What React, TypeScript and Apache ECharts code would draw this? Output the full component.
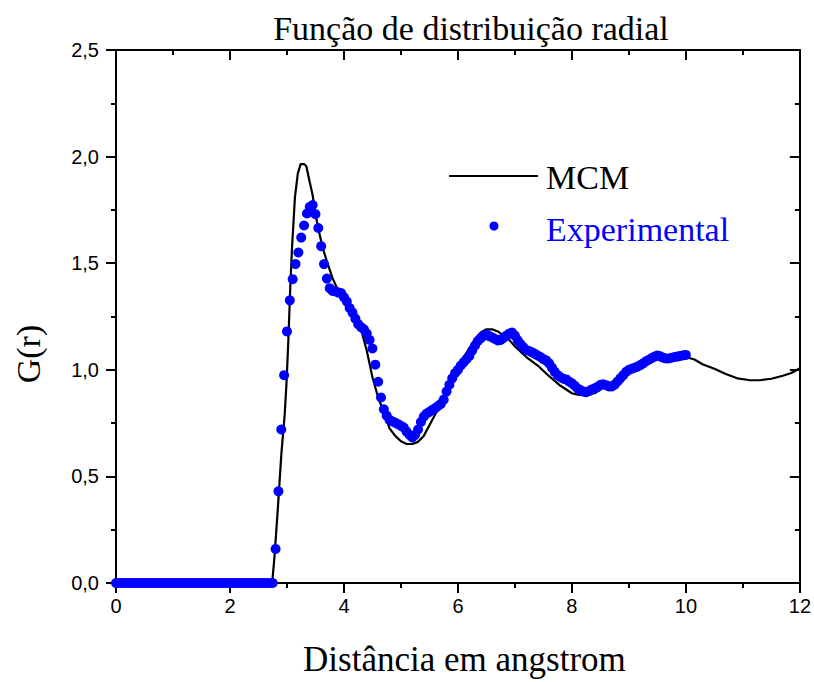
import React, { useEffect, useRef } from "react";
import * as echarts from "echarts";

// MCM simulated curve (x in angstrom, G(r))
const mcmX = [
  0, 1, 2, 2.5, 2.74, 2.78, 2.84, 2.9, 2.96, 2.99, 3.02, 3.06, 3.09, 3.14, 3.19,
  3.24, 3.3, 3.34, 3.4, 3.45, 3.5, 3.56, 3.63, 3.71, 3.8, 3.9, 4.0, 4.1, 4.2,
  4.3, 4.4, 4.5, 4.6, 4.7, 4.8, 4.9, 5.0, 5.1, 5.2, 5.3, 5.4, 5.5, 5.6, 5.7,
  5.8, 5.9, 6.0, 6.1, 6.2, 6.3, 6.4, 6.5, 6.6, 6.7, 6.8, 6.9, 7.0, 7.2, 7.4,
  7.6, 7.8, 8.0, 8.1, 8.2, 8.4, 8.6, 8.8, 9.0, 9.2, 9.4, 9.6, 9.85, 10.0,
  10.15, 10.3, 10.5, 10.7, 10.9, 11.1, 11.3, 11.5, 11.7, 11.85, 12.0,
];
const mcmY = [
  0, 0, 0, 0, 0, 0.12, 0.35, 0.6, 0.79, 0.93, 1.11, 1.4, 1.58, 1.81, 1.92,
  1.965, 1.965, 1.955, 1.88, 1.82, 1.73, 1.65, 1.57, 1.5, 1.43, 1.37, 1.34, 1.3, 1.25,
  1.19, 1.09, 0.965, 0.87, 0.8, 0.725, 0.69, 0.665, 0.652, 0.652, 0.662, 0.69, 0.74, 0.79, 0.84,
  0.89, 0.945, 1.01, 1.06, 1.1, 1.145, 1.175, 1.19, 1.19, 1.18, 1.16, 1.14, 1.11, 1.06, 1.02,
  0.97, 0.925, 0.89, 0.883, 0.882, 0.89, 0.925, 0.96, 0.995, 1.025, 1.05, 1.062, 1.067, 1.06,
  1.048, 1.025, 1.005, 0.98, 0.96, 0.952, 0.951, 0.958, 0.972, 0.985, 1.007,
];

// Experimental points, sampled every 0.05 angstrom from 0 to 10
const EXP_STEP = 0.05;
const expY = [
  // 0.00 - 2.70
  0, 0, 0, 0, 0, 0, 0, 0, 0, 0,
  0, 0, 0, 0, 0, 0, 0, 0, 0, 0,
  0, 0, 0, 0, 0, 0, 0, 0, 0, 0,
  0, 0, 0, 0, 0, 0, 0, 0, 0, 0,
  0, 0, 0, 0, 0, 0, 0, 0, 0, 0,
  0, 0, 0, 0, 0,
  // 2.75
  0,
  // 2.80 - 3.25
  0.16, 0.43, 0.72, 0.975, 1.18, 1.326, 1.425, 1.496, 1.55, 1.62,
  // 3.30 - 3.75
  1.677, 1.733, 1.764, 1.773, 1.73, 1.665, 1.58, 1.496, 1.428, 1.383,
  // 3.80 - 4.25
  1.37, 1.368, 1.362, 1.36, 1.34, 1.32, 1.29, 1.268, 1.24, 1.214,
  // 4.30 - 4.75
  1.2, 1.19, 1.17, 1.14, 1.1, 1.024, 0.944, 0.87, 0.815, 0.785,
  // 4.80 - 5.25
  0.765, 0.758, 0.752, 0.745, 0.737, 0.729, 0.71, 0.695, 0.683, 0.695,
  // 5.30 - 5.75
  0.72, 0.755, 0.78, 0.795, 0.803, 0.812, 0.82, 0.83, 0.84, 0.86,
  // 5.80 - 6.25
  0.898, 0.93, 0.96, 0.985, 1.0, 1.02, 1.035, 1.05, 1.065, 1.09,
  // 6.30 - 6.75
  1.114, 1.135, 1.148, 1.16, 1.165, 1.158, 1.152, 1.145, 1.138, 1.14,
  // 6.80 - 7.25
  1.15, 1.16, 1.17, 1.175, 1.16, 1.138, 1.12, 1.105, 1.093, 1.088,
  // 7.30 - 7.75
  1.082, 1.075, 1.067, 1.06, 1.05, 1.044, 1.03, 1.01, 0.99, 0.975,
  // 7.80 - 8.25
  0.965, 0.958, 0.955, 0.945, 0.937, 0.925, 0.912, 0.905, 0.898, 0.895,
  // 8.30 - 8.75
  0.9, 0.908, 0.913, 0.92, 0.93, 0.932, 0.928, 0.922, 0.922, 0.93,
  // 8.80 - 9.25
  0.945, 0.96, 0.975, 0.99, 1.0, 1.005, 1.01, 1.015, 1.022, 1.03,
  // 9.30 - 9.75
  1.04, 1.047, 1.055, 1.062, 1.067, 1.063, 1.057, 1.053, 1.053, 1.057,
  // 9.80 - 10.00
  1.06, 1.062, 1.065, 1.068, 1.07,
];

const xTicks = { min: 0, max: 12, interval: 2 };
const yTicks = { min: 0, max: 2.5, interval: 0.5 };

const TITLE = "Função de distribuição radial";
const X_NAME = "Distância em angstrom";
const Y_NAME = "G(r)";
const LEGEND = ["MCM", "Experimental"];

const SERIF = "'Liberation Serif', 'Times New Roman', serif";
const SANS = "'Liberation Sans', Arial, sans-serif";
const BLUE = "#0000ff";

export default function App() {
  const ref = useRef<HTMLDivElement>(null);

  useEffect(() => {
    if (!ref.current) return;
    const chart = echarts.init(ref.current, undefined, { renderer: "svg" });

    const mcmData = mcmX.map((x, i) => [x, mcmY[i]]);
    const expData = expY.map((y, i) => [Number((i * EXP_STEP).toFixed(2)), y]);

    const axisLine = { show: true, onZero: false, lineStyle: { color: "#000", width: 2 } };
    const tickStyle = { color: "#000", width: 2 };

    const option: any = {
      animation: false,
      backgroundColor: "#fff",
      title: {
        text: TITLE,
        left: 466,
        top: 6,
        textAlign: "center",
        textStyle: { fontFamily: SERIF, fontSize: 34, fontWeight: "normal", color: "#000" },
      },
      grid: { left: 116, right: 11, top: 50, bottom: 91, containLabel: false },
      xAxis: [
        {
          type: "value",
          position: "bottom",
          ...xTicks,
          name: X_NAME,
          nameLocation: "middle",
          nameGap: 59,
          nameTextStyle: { fontFamily: SERIF, fontSize: 35, color: "#000", padding: [0, 0, 0, 13] },
          axisLine,
          axisTick: { show: true, inside: false, length: 10, lineStyle: tickStyle },
          minorTick: { show: true, splitNumber: 2, length: 5, lineStyle: tickStyle },
          splitLine: { show: false },
          axisLabel: { fontFamily: SANS, fontSize: 20, color: "#000", margin: 13 },
        },
        {
          type: "value",
          position: "top",
          ...xTicks,
          axisLine,
          axisTick: { show: true, inside: true, length: 10, lineStyle: tickStyle },
          minorTick: { show: true, splitNumber: 2, length: 5, lineStyle: tickStyle },
          splitLine: { show: false },
          axisLabel: { show: false },
        },
      ],
      yAxis: [
        {
          type: "value",
          position: "left",
          ...yTicks,
          axisLine,
          axisTick: { show: true, inside: false, length: 10, lineStyle: tickStyle },
          minorTick: { show: true, splitNumber: 2, length: 5, lineStyle: tickStyle },
          splitLine: { show: false },
          axisLabel: {
            fontFamily: SANS,
            fontSize: 20,
            color: "#000",
            margin: 17,
            formatter: (v: number) => v.toFixed(1).replace(".", ","),
          },
        },
        {
          type: "value",
          position: "right",
          ...yTicks,
          axisLine,
          axisTick: { show: true, inside: true, length: 10, lineStyle: tickStyle },
          minorTick: { show: true, splitNumber: 2, length: 5, lineStyle: tickStyle },
          splitLine: { show: false },
          axisLabel: { show: false },
        },
      ],
      series: [
        {
          name: LEGEND[0],
          type: "line",
          xAxisIndex: 0,
          yAxisIndex: 0,
          data: mcmData,
          showSymbol: false,
          symbol: "none",
          lineStyle: { color: "#000", width: 2.2 },
          z: 2,
        },
        {
          name: LEGEND[1],
          type: "scatter",
          xAxisIndex: 0,
          yAxisIndex: 0,
          data: expData,
          symbol: "circle",
          symbolSize: 10,
          itemStyle: { color: BLUE, opacity: 1 },
          z: 3,
        },
      ],
      graphic: [
        {
          type: "text",
          x: 28,
          y: 354,
          rotation: Math.PI / 2,
          style: {
            text: Y_NAME,
            fontFamily: SERIF,
            fontSize: 34,
            fill: "#000",
            textAlign: "center",
            textVerticalAlign: "middle",
          },
        },
        {
          type: "line",
          shape: { x1: 449, y1: 176, x2: 538, y2: 176 },
          style: { stroke: "#000", lineWidth: 2 },
        },
        {
          type: "text",
          x: 546,
          y: 177,
          style: {
            text: LEGEND[0],
            fontFamily: SERIF,
            fontSize: 34,
            fill: "#000",
            textAlign: "left",
            textVerticalAlign: "middle",
          },
        },
        {
          type: "circle",
          shape: { cx: 494, cy: 226, r: 4.5 },
          style: { fill: BLUE },
        },
        {
          type: "text",
          x: 546,
          y: 229,
          style: {
            text: LEGEND[1],
            fontFamily: SERIF,
            fontSize: 34,
            fill: BLUE,
            textAlign: "left",
            textVerticalAlign: "middle",
          },
        },
      ],
    };

    chart.setOption(option);
    return () => chart.dispose();
  }, []);

  return (
    <div
      ref={ref}
      style={{ position: "fixed", left: 0, top: 0, width: 814, height: 682, background: "#fff" }}
    />
  );
}
